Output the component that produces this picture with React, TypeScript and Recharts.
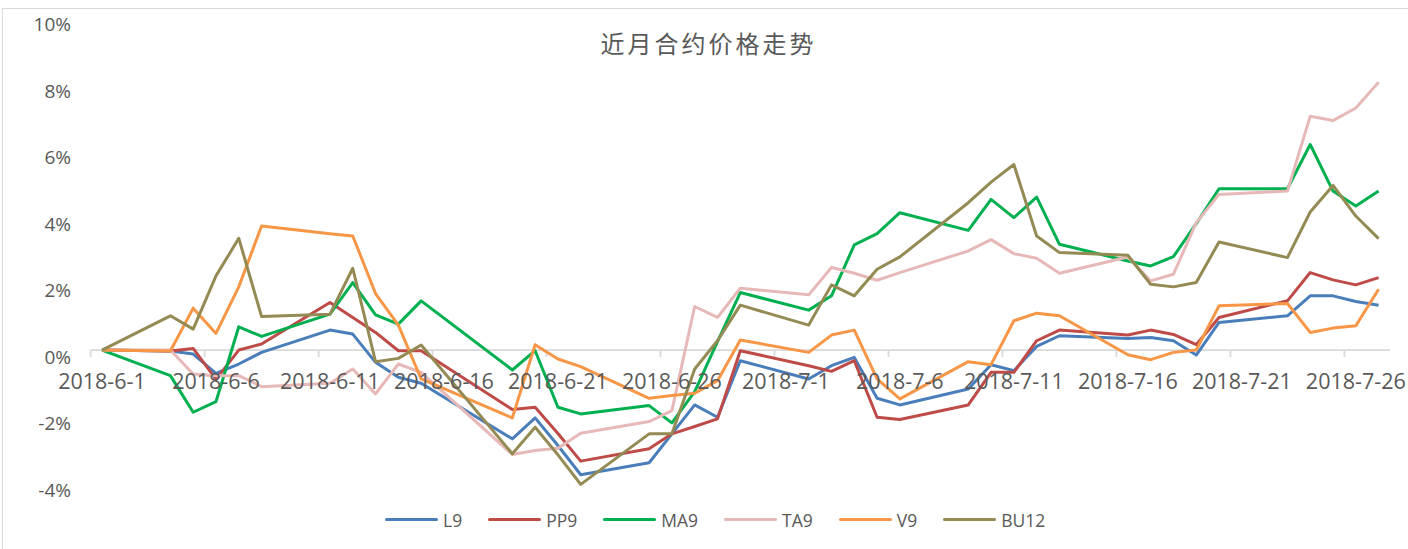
import { LineChart, Line, XAxis, YAxis, ReferenceLine } from 'recharts';

// trading days, counted as calendar days from 2018-6-1
const DAYS = [
  0, 3, 4, 5, 6, 7, 10, 11, 12, 13, 14, 18, 19, 20, 21, 24, 25, 26, 27, 28,
  31, 32, 33, 34, 35, 38, 39, 40, 41, 42, 45, 46, 47, 48, 49, 52, 53, 54, 55, 56,
];

const L9 = [
  0, -0.03, -0.12, -0.7, -0.42, -0.07, 0.6, 0.48, -0.37, -0.82, -1.0, -2.67, -2.04, -2.87, -3.75, -3.39, -2.52, -1.65, -2.02, -0.32,
  -0.87, -0.47, -0.22, -1.45, -1.65, -1.17, -0.44, -0.62, 0.11, 0.43, 0.35, 0.38, 0.28, -0.15, 0.83, 1.03, 1.63, 1.63, 1.46, 1.35,
];
const PP9 = [
  0, -0.03, 0.05, -0.88, 0.0, 0.18, 1.43, 0.98, 0.53, -0.02, -0.02, -1.79, -1.72, -2.51, -3.34, -2.97, -2.52, -2.3, -2.07, -0.02,
  -0.47, -0.64, -0.32, -2.02, -2.09, -1.65, -0.67, -0.67, 0.28, 0.6, 0.45, 0.6, 0.47, 0.16, 0.98, 1.48, 2.33, 2.11, 1.96, 2.18,
];
const MA9 = [
  0, -0.77, -1.87, -1.55, 0.7, 0.41, 1.08, 2.03, 1.06, 0.78, 1.48, -0.6, -0.02, -1.72, -1.92, -1.67, -2.19, -1.25, 0.25, 1.73,
  1.2, 1.63, 3.16, 3.5, 4.13, 3.6, 4.53, 3.98, 4.6, 3.18, 2.68, 2.53, 2.81, 3.8, 4.85, 4.85, 6.18, 4.78, 4.33, 4.78,
];
const TA9 = [
  0, 0.0, -0.72, -0.77, -0.77, -1.1, -1.0, -0.57, -1.32, -0.42, -0.67, -3.14, -3.02, -2.95, -2.5, -2.15, -1.82, 1.31, 0.98, 1.86,
  1.66, 2.48, 2.31, 2.1, 2.33, 2.98, 3.32, 2.9, 2.76, 2.31, 2.8, 2.08, 2.28, 3.83, 4.68, 4.78, 7.03, 6.9, 7.28, 8.05,
];
const V9 = [
  0, -0.03, 1.26, 0.5, 1.9, 3.73, 3.5, 3.43, 1.7, 0.75, -0.87, -2.04, 0.16, -0.27, -0.5, -1.45, -1.37, -1.3, -0.92, 0.3,
  -0.07, 0.45, 0.6, -0.87, -1.47, -0.35, -0.44, 0.88, 1.11, 1.03, -0.14, -0.29, -0.07, 0.0, 1.33, 1.4, 0.53, 0.66, 0.73, 1.83,
];
const BU12 = [
  0, 1.03, 0.63, 2.23, 3.36, 1.01, 1.08, 2.46, -0.35, -0.25, 0.15, -3.12, -2.32, -3.15, -4.04, -2.52, -2.52, -0.57, 0.28, 1.35,
  0.75, 1.96, 1.63, 2.43, 2.8, 4.43, 5.05, 5.58, 3.43, 2.93, 2.85, 1.98, 1.9, 2.03, 3.25, 2.78, 4.15, 4.95, 4.03, 3.35,
];

const LABEL_DAYS = [0, 5, 10, 15, 20, 25, 30, 35, 40, 45, 50, 55];
const LABELS = [
  '2018-6-1', '2018-6-6', '2018-6-11', '2018-6-16', '2018-6-21', '2018-6-26',
  '2018-7-1', '2018-7-6', '2018-7-11', '2018-7-16', '2018-7-21', '2018-7-26',
];
const TICK_MARKS = [-0.5, 4.5, 9.5, 14.5, 19.5, 24.5, 29.5, 34.5, 39.5, 44.5, 49.5, 54.5];
const Y_TICKS = [-4, -2, 0, 2, 4, 6, 8, 10];

const SERIES = [
  { key: 'L9', color: '#4a7ebb', values: L9 },
  { key: 'PP9', color: '#be4b48', values: PP9 },
  { key: 'MA9', color: '#00b050', values: MA9 },
  { key: 'TA9', color: '#e6b9b8', values: TA9 },
  { key: 'V9', color: '#f79646', values: V9 },
  { key: 'BU12', color: '#948a54', values: BU12 },
];

const data = DAYS.map((d, i) => {
  const row: Record<string, number> = { d };
  SERIES.forEach((s) => { row[s.key] = s.values[i]; });
  return row;
});

const W = 1408;
const H = 549;
const TOP = 17.5;
const BOTTOM = 484.4;
const ZERO_Y = TOP + (BOTTOM - TOP) * (10 / 14);
const TEXT = '#595959';
const FONT = '"Open Sans", "Noto Sans", sans-serif';

function DateTick({ x, payload }: any) {
  const i = LABEL_DAYS.indexOf(payload.value);
  return (
    <text x={x} y={ZERO_Y + 38} textAnchor="middle" fontSize={21.5} fill={TEXT} fontFamily={FONT}>
      {LABELS[i]}
    </text>
  );
}

function PctTick({ y, payload }: any) {
  return (
    <text x={71} y={y + 13.5} textAnchor="end" fontSize={19} fill={TEXT} fontFamily={FONT}>
      {`${payload.value}%`}
    </text>
  );
}

export default function App() {
  return (
    <div style={{ position: 'absolute', left: 0, top: 0, width: W, height: H, background: '#fff', overflow: 'hidden' }}>
      <div style={{ position: 'absolute', left: 1.5, top: 7.5, width: 1500, height: 700, border: '1.5px solid #d9d9d9' }} />
      <div
        style={{
          position: 'absolute', left: 0, top: 28, width: 1417, height: 30, lineHeight: '30px',
          textAlign: 'center', fontSize: 24, letterSpacing: 3, color: TEXT,
          fontFamily: '"Noto Sans CJK SC", sans-serif',
        }}
      >
        近月合约价格走势
      </div>

      <div style={{ position: 'absolute', left: 0, top: 0 }}>
        <LineChart width={W} height={H} data={data} margin={{ top: TOP, right: 18, bottom: 0, left: 0 }}>
          <XAxis
            dataKey="d"
            type="number"
            domain={[-0.5, 56.5]}
            ticks={LABEL_DAYS}
            interval={0}
            axisLine={false}
            tickLine={false}
            height={H - BOTTOM}
            tick={<DateTick />}
          />
          <YAxis
            type="number"
            domain={[-4, 10]}
            ticks={Y_TICKS}
            interval={0}
            axisLine={false}
            tickLine={false}
            width={90.6}
            tick={<PctTick />}
          />
          <ReferenceLine y={0} stroke="#d9d9d9" strokeWidth={1.8} />
          {TICK_MARKS.map((t) => (
            <ReferenceLine
              key={t}
              segment={[{ x: t, y: 0 }, { x: t, y: -0.21 }]}
              stroke="#d9d9d9"
              strokeWidth={1.8}
            />
          ))}
          {SERIES.map((s) => (
            <Line
              key={s.key}
              dataKey={s.key}
              type="linear"
              stroke={s.color}
              strokeWidth={3}
              strokeLinejoin="round"
              dot={false}
              activeDot={false}
              isAnimationActive={false}
            />
          ))}
        </LineChart>
      </div>

      <div
        style={{
          position: 'absolute', left: 385, top: 507, height: 25, display: 'flex', alignItems: 'center',
          gap: 26, fontFamily: FONT, fontSize: 17.5, color: TEXT,
        }}
      >
        {SERIES.map((s) => (
          <div key={s.key} style={{ display: 'flex', alignItems: 'center' }}>
            <span style={{ display: 'inline-block', width: 53, height: 3, borderRadius: 1.5, background: s.color, marginRight: 5 }} />
            <span>{s.key}</span>
          </div>
        ))}
      </div>
    </div>
  );
}
